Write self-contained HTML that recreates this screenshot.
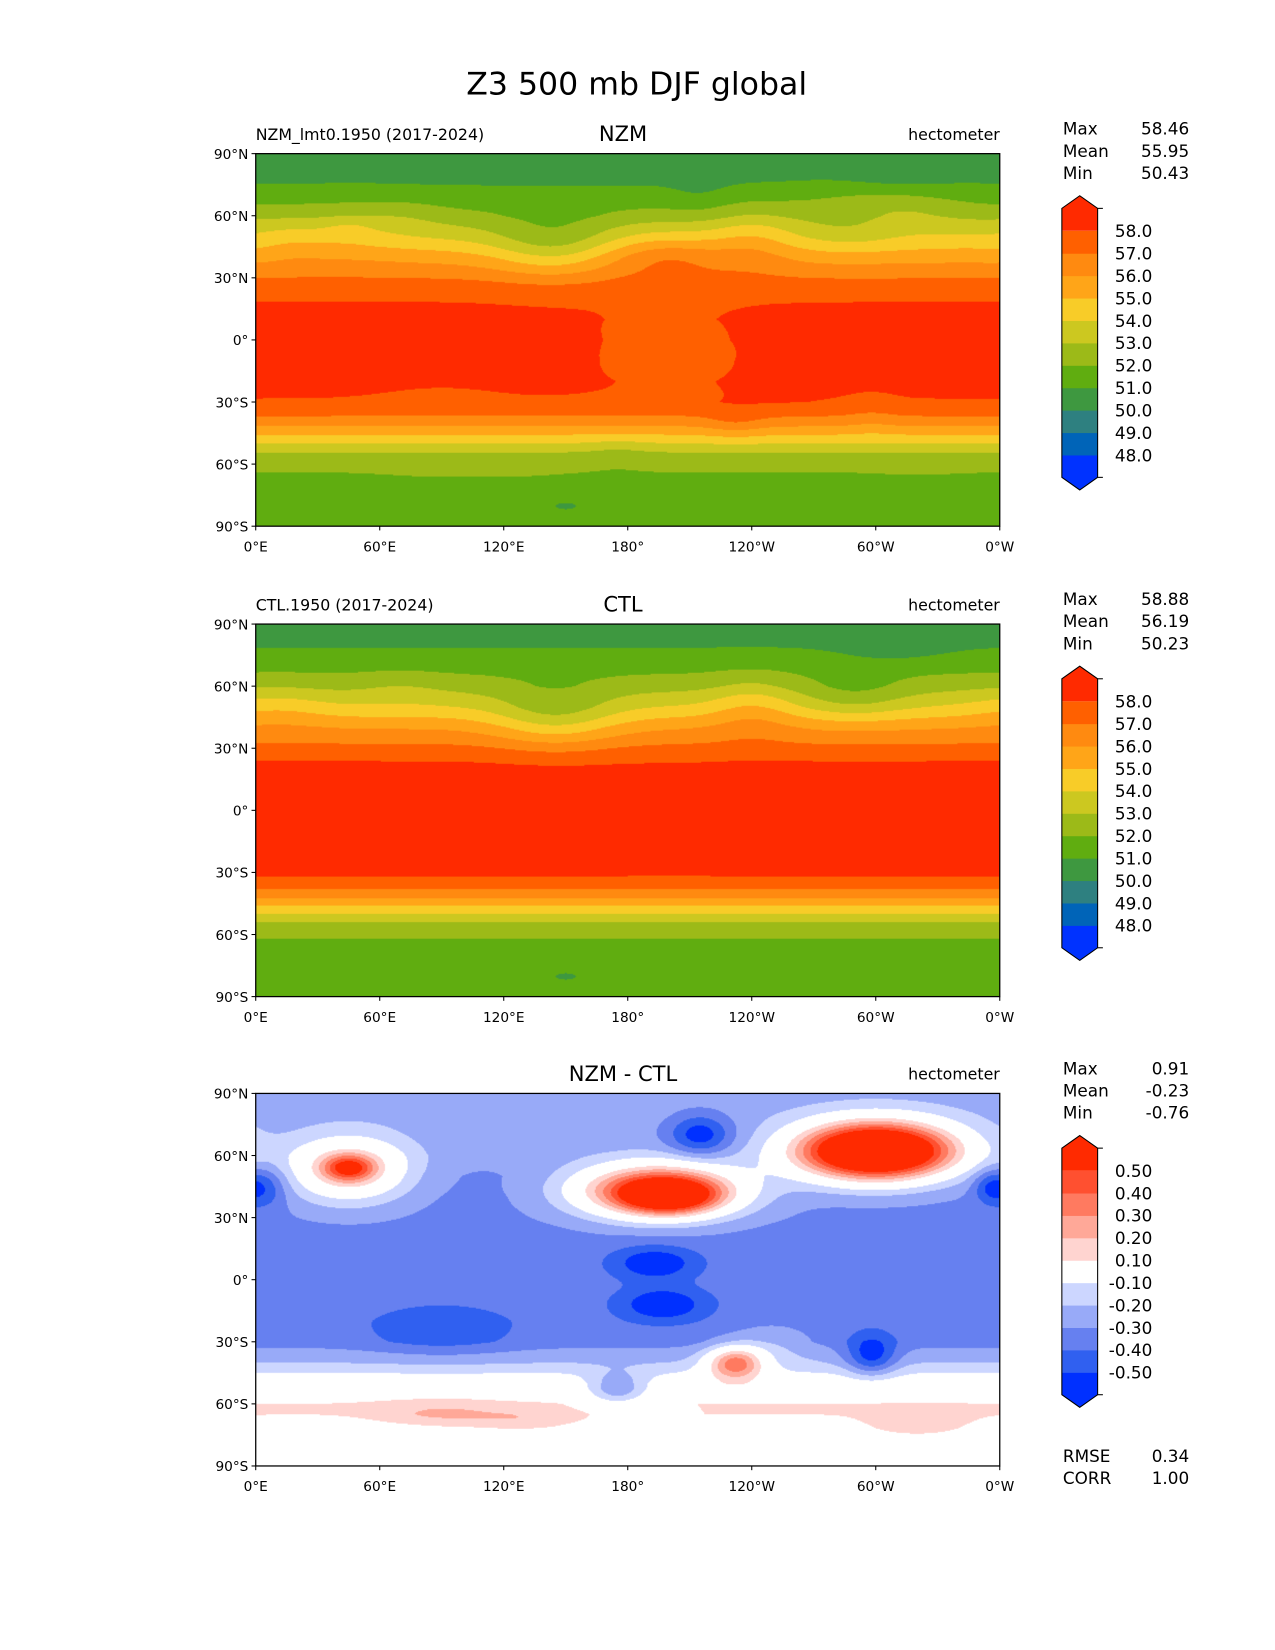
<!DOCTYPE html>
<html><head><meta charset="utf-8"><style>
html,body{margin:0;padding:0;background:#fff;}
#wrap{position:absolute;left:0;top:0;width:1211.5px;height:1567.5px;transform:scale(1.05238);transform-origin:0 0;}
canvas{position:absolute;width:707px;height:354px;}
svg{position:absolute;left:0;top:0;}
text{font-family:"DejaVu Sans","Liberation Sans",sans-serif;fill:#000;}
</style></head><body>
<div id="wrap">
<canvas id="c1" width="720" height="360" style="left:243px;top:146px"></canvas>
<canvas id="c2" width="720" height="360" style="left:243px;top:593px"></canvas>
<canvas id="c3" width="720" height="360" style="left:243px;top:1039px"></canvas>
<svg id="ov" width="1211.5" height="1567.5"></svg>
</div>
<script>
// ---- data ----
const ctlLat = [90,80,70,60,50,40,30,25,20,10,0,-10,-20,-30,-35,-40,-45,-50,-55,-60,-70,-80,-90];
const ctlVal = [50.5,50.9,51.6,52.6,54.1,55.9,57.3,57.9,58.3,58.55,58.6,58.6,58.55,58.3,57.6,56.6,55.3,54.0,52.8,52.1,51.6,51.45,51.4];
// patches: lon, lat, rx, ry, amplitude
const ctlPatchLon = [145,290,240,10,310,70,150,200];
const ctlPatchLat = [45,55,50,50,80,60,-80,-5];
const ctlPatchRx  = [30,25,20,25,25,20,15,45];
const ctlPatchRy  = [15,12,15,12,8,8,5,20];
const ctlPatchAmp = [-1.8,-1.0,1.0,0.6,-0.6,0.4,-0.5,-0.4];

const difLat = [90,80,70,60,50,40,30,20,10,0,-10,-20,-30,-40,-45,-50,-55,-60,-65,-70,-80,-90];
const difVal = [-0.25,-0.25,-0.27,-0.28,-0.32,-0.33,-0.33,-0.34,-0.35,-0.35,-0.36,-0.36,-0.34,-0.2,-0.1,0.0,0.05,0.1,0.1,0.05,0.0,0.0];
const difPatchLon = [45,45,195,200,300,215,5,193,197,298,232,175,90,90,320,250,130,355];
const difPatchLat = [53,54,43,40,62,70,45,8,-12,-37,-40,-53,-25,-65,-70,-30,-68,45];
const difPatchRx  = [30,12,40,22,38,15,10,20,20,12,14,15,35,30,25,20,25,8];
const difPatchRy  = [16,6,13,8,14,10,10,8,8,10,8,8,12,6,6,10,5,8];
const difPatchAmp = [0.5,0.45,0.9,0.5,1.35,-0.3,-0.2,-0.25,-0.25,-0.3,0.55,-0.3,-0.12,0.12,0.12,0.1,0.1,-0.2];

const lev1 = [48,49,50,51,52,53,54,55,56,57,58];
const col1 = ["#0032ff","#0064b8","#2e8080","#3e9840","#60ad10","#9cba18","#ccc820","#f8cc28","#ffa518","#ff8a10","#ff6000","#ff2a00"];
const lev3 = [-0.5,-0.4,-0.3,-0.2,-0.1,0.1,0.2,0.3,0.4,0.5];
const col3 = ["#0030ff","#3060f0","#6680f0","#98aaf8","#ccd6ff","#ffffff","#ffd4d0","#ffa898","#ff7a60","#ff5030","#ff2a00"];
const latTicks = ["90°N","60°N","30°N","0°","30°S","60°S","90°S"];
const lonTicks = ["0°E","60°E","120°E","180°","120°W","60°W","0°W"];

function interp(xs,ys,x){for(let i=0;i<xs.length-1;i++){if(x<=xs[i]&&x>=xs[i+1]){const t=(xs[i]-x)/(xs[i]-xs[i+1]);return ys[i]+t*(ys[i+1]-ys[i]);}}return ys[ys.length-1];}
function field(lat,lon,L,V,pl,pa,rx,ry,am){let v=interp(L,V,lat);for(let k=0;k<pl.length;k++){let d=Math.abs(lon-pl[k]);if(d>180)d=360-d;const e=(d/rx[k])**2+((lat-pa[k])/ry[k])**2;v+=am[k]*Math.exp(-e);}return v;}
function ctl(lat,lon){return field(lat,lon,ctlLat,ctlVal,ctlPatchLon,ctlPatchLat,ctlPatchRx,ctlPatchRy,ctlPatchAmp);}
function dif(lat,lon){return field(lat,lon,difLat,difVal,difPatchLon,difPatchLat,difPatchRx,difPatchRy,difPatchAmp);}
function bin(v,lev){let i=0;while(i<lev.length&&v>=lev[i])i++;return i;}
function paint(id,fn,lev,col){const c=document.getElementById(id),g=c.getContext('2d');for(let j=0;j<360;j++){const lat=90-(j+0.5)*0.5;for(let i=0;i<720;i++){const lon=(i+0.5)*0.5;g.fillStyle=col[bin(fn(lat,lon),lev)];g.fillRect(i,j,1,1);}}}
paint('c2',ctl,lev1,col1);
paint('c3',dif,lev3,col3);
paint('c1',(a,b)=>ctl(a,b)+dif(a,b),lev1,col1);

// ---- overlay ----
const ov=document.getElementById('ov');const NS='http://www.w3.org/2000/svg';
function el(t,a,txt){const e=document.createElementNS(NS,t);for(const k in a)e.setAttribute(k,a[k]);if(txt!==undefined)e.textContent=txt;ov.appendChild(e);return e;}
const MX=243,MW=707,MH=354;
let e=el('text',{x:605,y:90,'font-size':30,'text-anchor':'middle'},'Z3 500 mb DJF global');


const panels=[
 {top:146,left:'NZM_lmt0.1950 (2017-2024)',ctr:'NZM',stats:['58.46','55.95','50.43'],lev:lev1,col:col1,fmt:1,name:'nzm'},
 {top:593,left:'CTL.1950 (2017-2024)',ctr:'CTL',stats:['58.88','56.19','50.23'],lev:lev1,col:col1,fmt:1,name:'ctl'},
 {top:1039,left:'',ctr:'NZM - CTL',stats:['0.91','-0.23','-0.76'],lev:lev3,col:col3,fmt:2,name:'diff'}];
panels.forEach(p=>{
 const T=p.top;
 e=el('rect',{x:MX,y:T,width:MW,height:MH,fill:'none',stroke:'#000','stroke-width':1.2});
 
 
 if(p.left){e=el('text',{x:243,y:T-13,'font-size':15},p.left);
 
 }
 e=el('text',{x:592,y:T-12,'font-size':20,'text-anchor':'middle'},p.ctr);
 
 
 e=el('text',{x:950,y:T-13,'font-size':15,'text-anchor':'end'},'hectometer');
 
 
 ['Max','Mean','Min'].forEach((s,k)=>{
  e=el('text',{x:1010,y:T-18+k*21,'font-size':16},s);
  
  
  e=el('text',{x:1130,y:T-18+k*21,'font-size':16,'text-anchor':'end'},p.stats[k]);
  
  
 });
 latTicks.forEach((s,k)=>{const y=T+k*MH/6;
  el('line',{x1:MX-4,x2:MX,y1:y,y2:y,stroke:'#000'});
  e=el('text',{x:236,y:y+5,'font-size':13,'text-anchor':'end'},s);
  
  });
 lonTicks.forEach((s,k)=>{const x=MX+k*MW/6;
  el('line',{x1:x,x2:x,y1:T+MH,y2:T+MH+4,stroke:'#000'});
  e=el('text',{x:x,y:T+MH+24,'font-size':13,'text-anchor':'middle'},s);
  
  });
 // colorbar
 const cx=1009,cw=34,ct=T+52,n=p.col.length,bh=21.3,cb=ct+n*bh;
 p.col.forEach((c,k)=>{const y=ct+(n-1-k)*bh;
  if(k===n-1){e=el('path',{d:`M${cx},${y} L${cx+cw/2},${y-12} L${cx+cw},${y} L${cx+cw},${y+bh} L${cx},${y+bh}Z`,fill:c});}
  else if(k===0){e=el('path',{d:`M${cx},${y} L${cx+cw},${y} L${cx+cw},${y+bh} L${cx+cw/2},${y+bh+12} L${cx},${y+bh}Z`,fill:c});}
  else e=el('rect',{x:cx,y:y,width:cw,height:bh+0.5,fill:c});
  
  });
 e=el('path',{d:`M${cx},${ct} L${cx+cw/2},${ct-12} L${cx+cw},${ct} L${cx+cw},${cb} L${cx+cw/2},${cb+12} L${cx},${cb}Z`,fill:'none',stroke:'#000','stroke-width':1});
 
 
 el('line',{x1:cx+cw,x2:cx+cw+5,y1:ct,y2:ct,stroke:'#000'});
 el('line',{x1:cx+cw,x2:cx+cw+5,y1:cb,y2:cb,stroke:'#000'});
 p.lev.forEach((v,k)=>{const y=ct+(n-1-k)*bh;
  e=el('text',{x:1095,y:y+6,'font-size':16,'text-anchor':'end'},v.toFixed(p.fmt));
  
  });
});
[['RMSE','0.34'],['CORR','1.00']].forEach((s,k)=>{
 e=el('text',{x:1010,y:1389+k*21,'font-size':16},s[0]);
 
 
 e=el('text',{x:1130,y:1389+k*21,'font-size':16,'text-anchor':'end'},s[1]);
 
 
});
</script>
</body></html>
